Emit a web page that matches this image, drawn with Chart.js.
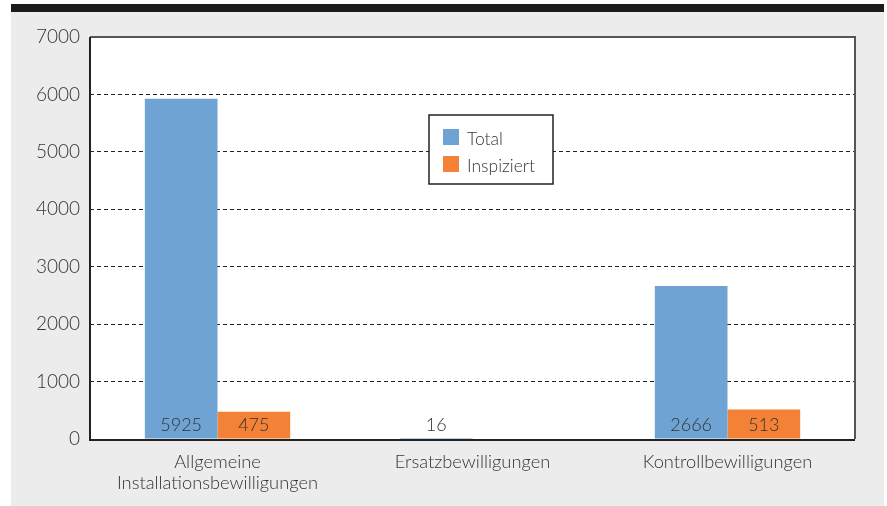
<!DOCTYPE html>
<html>
<head>
<meta charset="utf-8">
<script src="https://cdn.jsdelivr.net/npm/chart.js@4"></script>
<style>
  html, body { margin: 0; padding: 0; background: #ffffff; }
  #frame { position: absolute; left: 11px; top: 4px; width: 873px; height: 494px; border-top: 8px solid #1b1b1b; background: #ececec; }
  #wrap { position: absolute; left: 0; top: 0; width: 887px; height: 506px; }
</style>
</head>
<body>
<div id="frame"></div>
<div id="wrap"><canvas id="c" width="887" height="506"></canvas></div>
<script>
const categories = [["Allgemeine", "Installationsbewilligungen"], "Ersatzbewilligungen", "Kontrollbewilligungen"];
const totalValues = [5925, 16, 2666];
const inspiziertValues = [475, null, 513];
const seriesNames = ["Total", "Inspiziert"];
const yTicks = [0, 1000, 2000, 3000, 4000, 5000, 6000, 7000];

const FONT = "Lato, 'Open Sans', sans-serif";
const TEXT = "#333333";

const framePlugin = {
  id: 'framePlugin',
  beforeDraw(chart) {
    const { ctx, chartArea: a } = chart;
    ctx.save();
    ctx.fillStyle = '#ffffff';
    ctx.fillRect(a.left, a.top, a.right - a.left, a.bottom - a.top);
    ctx.restore();
  },
  afterDatasetsDraw(chart) {
    const { ctx, chartArea: a } = chart;
    ctx.save();
    ctx.strokeStyle = '#555555';
    ctx.lineWidth = 2;
    ctx.beginPath();
    ctx.moveTo(a.left, a.top);
    ctx.lineTo(a.right, a.top);
    ctx.lineTo(a.right, a.bottom);
    ctx.stroke();
    ctx.strokeStyle = '#222222';
    ctx.beginPath();
    ctx.moveTo(a.left, a.top);
    ctx.lineTo(a.left, a.bottom + 1);
    ctx.lineTo(a.right, a.bottom + 1);
    ctx.stroke();

    ctx.font = "300 18px " + FONT;
    ctx.fillStyle = '#333333';
    ctx.textAlign = 'center';
    ctx.textBaseline = 'middle';
    chart.data.datasets.forEach((ds, di) => {
      const meta = chart.getDatasetMeta(di);
      meta.data.forEach((bar, i) => {
        const v = ds.data[i];
        if (v === null || v === undefined) return;
        ctx.fillText(String(v), bar.x, a.bottom - 14);
      });
    });

    const lx = 429, ly = 115, lw = 124, lh = 69;
    ctx.fillStyle = '#ffffff';
    ctx.fillRect(lx, ly, lw, lh);
    ctx.strokeStyle = '#222222';
    ctx.lineWidth = 1.5;
    ctx.strokeRect(lx, ly, lw, lh);
    ctx.font = "300 17.5px " + FONT;
    ctx.textAlign = 'left';
    chart.data.datasets.forEach((ds, di) => {
      const y = ly + 22 + di * 27;
      ctx.fillStyle = ds.backgroundColor;
      ctx.fillRect(lx + 14, y - 8, 16, 16);
      ctx.fillStyle = TEXT;
      ctx.fillText(ds.label, lx + 38, y + 2);
    });
    ctx.restore();
  }
};

new Chart(document.getElementById('c'), {
  type: 'bar',
  data: {
    labels: categories,
    datasets: [
      { label: seriesNames[0], data: totalValues, backgroundColor: '#6ea3d4' },
      { label: seriesNames[1], data: inspiziertValues, backgroundColor: '#f38236' }
    ]
  },
  options: {
    responsive: false,
    animation: false,
    devicePixelRatio: 1,
    layout: { padding: { left: 0, right: 32, top: 37, bottom: 0 } },
    categoryPercentage: 0.57,
    barPercentage: 1.0,
    plugins: { legend: { display: false }, tooltip: { enabled: false } },
    scales: {
      x: {
        grid: { display: false },
        border: { display: false },
        ticks: { color: TEXT, font: { family: FONT, size: 18.3, weight: 300, lineHeight: 1.15 }, padding: 5, maxRotation: 0, autoSkip: false },
        afterFit(s) { s.height = 67; }
      },
      y: {
        min: 0, max: 7000,
        afterBuildTicks(s) { s.ticks = yTicks.map(v => ({ value: v })); },
        ticks: { color: TEXT, font: { family: FONT, size: 19, weight: 300 }, padding: 10, callback: v => String(v) },
        grid: {
          drawTicks: false,
          color: ctx => (ctx.tick && (ctx.tick.value === 0 || ctx.tick.value === 7000)) ? 'rgba(0,0,0,0)' : '#222222',
          lineWidth: 1
        },
        border: { display: false, dash: [4, 3] },
        afterFit(s) { s.width = 90; }
      }
    }
  },
  plugins: [framePlugin]
});
</script>
</body>
</html>
